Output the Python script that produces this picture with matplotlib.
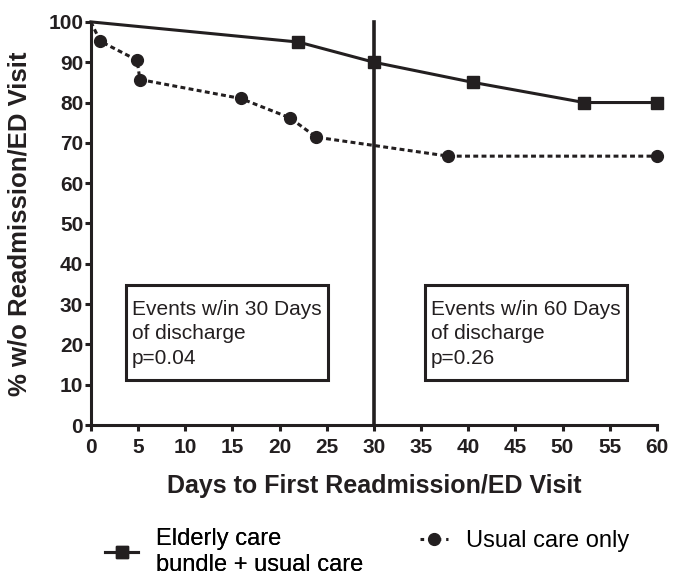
import matplotlib
matplotlib.use('Agg')
import matplotlib.pyplot as plt
from matplotlib.lines import Line2D
from matplotlib.patches import Rectangle

# Kaplan-Meier style curves
days_bundle = [0, 22, 30, 40.5, 52.3, 60]
pct_bundle = [100, 95, 90, 85, 80, 80]
days_usual = [0, 1, 4.9, 5.2, 15.9, 21.1, 23.9, 37.9, 60]
pct_usual = [100, 95.2, 90.5, 85.7, 81.0, 76.2, 71.4, 66.7, 66.7]
split_day = 30
label_bundle = 'Elderly care\nbundle + usual care'
label_usual = 'Usual care only'
box_30 = 'Events w/in 30 Days\nof discharge\np=0.04'
box_60 = 'Events w/in 60 Days\nof discharge\np=0.26'

plt.rcParams['font.family'] = ['Liberation Sans', 'DejaVu Sans']
ink = '#231f20'

fig = plt.figure(figsize=(6.73, 5.76), dpi=100)
ax = fig.add_axes([0.135, 0.262, 0.841, 0.700])

ax.plot(days_bundle, pct_bundle, color=ink, linewidth=2.2, marker='s', markersize=8.5,
        markevery=slice(1, None), clip_on=False, zorder=3)
ax.plot(days_usual, pct_usual, color=ink, linewidth=2.2, linestyle=(0, (1.6, 1.1)),
        marker='o', markersize=8.5, markevery=slice(1, None), clip_on=False, zorder=3)
ax.axvline(split_day, ymin=0, ymax=1.0, color=ink, linewidth=2.6, clip_on=False)

# annotation boxes
for bx, txt in [(3.7, box_30), (35.4, box_60)]:
    ax.add_patch(Rectangle((bx, 11.1), 21.4, 23.7, facecolor='white', edgecolor=ink,
                           linewidth=2.2, zorder=2))
    ax.text(bx + 0.65, 22.6, txt, fontsize=15, ha='left', va='center', linespacing=1.38,
            color=ink, zorder=4)

ax.set_xlim(0, 60)
ax.set_ylim(0, 100)
ax.set_xticks(range(0, 61, 5))
ax.set_yticks(range(0, 101, 10))
for s in ['top', 'right']:
    ax.spines[s].set_visible(False)
for s in ['left', 'bottom']:
    ax.spines[s].set_linewidth(2.2)
    ax.spines[s].set_color(ink)
ax.tick_params(direction='out', length=4.5, width=2.2, color=ink, labelsize=15)
ax.tick_params(axis='x', pad=5)
ax.tick_params(axis='y', pad=1)
for lbl in ax.get_xticklabels() + ax.get_yticklabels():
    lbl.set_fontweight('bold')
    lbl.set_color(ink)

ax.set_xlabel('Days to First Readmission/ED Visit', fontsize=18, fontweight='bold', color=ink, labelpad=12)
ax.set_ylabel('% w/o Readmission/ED Visit', fontsize=18.5, fontweight='bold', color=ink)
ax.yaxis.set_label_coords(-0.105, 0.5)

h_bundle = Line2D([], [], color=ink, linewidth=2.2, marker='s', markersize=8.5)
h_usual = Line2D([], [], color=ink, linewidth=2.2, linestyle=(0, (1.2, 1.6)), marker='o', markersize=8.5)
leg1 = fig.legend([h_bundle], [label_bundle], loc='center left', bbox_to_anchor=(0.156, 0.042),
                  frameon=False, fontsize=17, handlelength=1.4, handletextpad=0.75,
                  borderpad=0, borderaxespad=0, labelspacing=0)
leg2 = fig.legend([h_usual], [label_usual], loc='center left', bbox_to_anchor=(0.624, 0.061),
                  frameon=False, fontsize=17, handlelength=1.2, handletextpad=0.75,
                  borderpad=0, borderaxespad=0)
fig.add_artist(leg1)

fig.savefig('out.png', dpi=100, facecolor='white')
